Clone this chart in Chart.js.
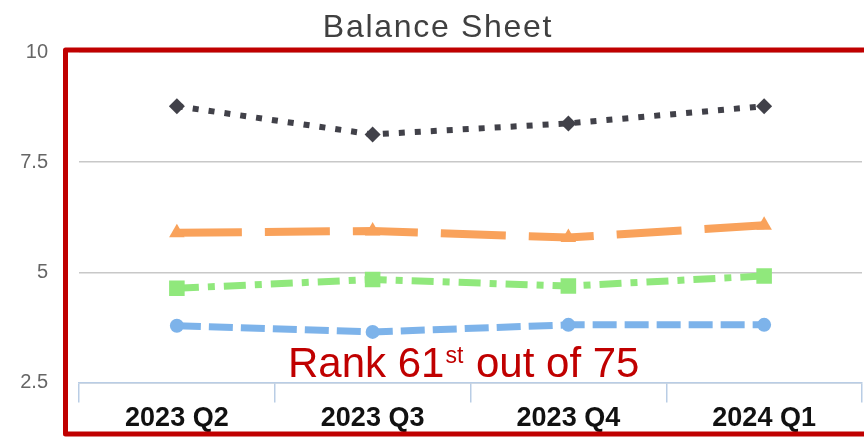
<!DOCTYPE html>
<html>
<head>
<meta charset="utf-8">
<script src="https://cdn.jsdelivr.net/npm/chart.js@4/dist/chart.umd.min.js"></script>
<style>
  html, body { margin: 0; padding: 0; background: #fff; }
  #wrap { width: 864px; height: 441px; }
</style>
</head>
<body>
<div id="wrap"><canvas id="balance"></canvas></div>
<script>
const quarters = ['2023 Q2', '2023 Q3', '2023 Q4', '2024 Q1'];
const seriesBlack = [8.77, 8.13, 8.38, 8.77];
const seriesOrange = [5.9, 5.94, 5.79, 6.07];
const seriesGreen = [4.64, 4.84, 4.69, 4.92];
const seriesBlue = [3.79, 3.65, 3.81, 3.81];
const yTicks = [2.5, 5, 7.5, 10];
const chartTitle = 'Balance Sheet';
const rankText = ['Rank 61', 'st', ' out of 75'];

const fontFam = "'Liberation Sans', Arial, sans-serif";

// title, red frame and rank caption drawn on top
const overlay = {
    id: 'overlay',
    afterDraw(chart) {
        const c = chart.ctx;
        c.save();
        c.fillStyle = '#404040';
        c.font = '32px ' + fontFam;
        c.letterSpacing = '1.7px';
        c.textAlign = 'center';
        c.textBaseline = 'alphabetic';
        c.fillText(chartTitle, 438, 37);
        c.letterSpacing = '0px';

        c.strokeStyle = '#c00000';
        c.lineWidth = 5;
        c.lineJoin = 'round';
        c.strokeRect(65.5, 50, 806, 384);

        c.fillStyle = '#c00000';
        c.textAlign = 'left';
        let x = 288;
        c.font = '42px ' + fontFam;
        c.fillText(rankText[0], x, 377);
        x += c.measureText(rankText[0]).width + 1;
        c.font = '23px ' + fontFam;
        c.fillText(rankText[1], x, 363);
        x += c.measureText(rankText[1]).width + 1;
        c.font = '42px ' + fontFam;
        c.fillText(rankText[2], x, 377);
        c.restore();
    }
};

function line(label, data, color, width, dash, style, radius) {
    return {
        label: label,
        data: data,
        borderColor: color,
        backgroundColor: color,
        borderWidth: width,
        borderDash: dash,
        pointStyle: style,
        pointRadius: radius,
        pointBorderWidth: 0,
        pointBackgroundColor: color,
        tension: 0,
        fill: false
    };
}

new Chart(document.getElementById('balance'), {
    type: 'line',
    data: {
        labels: quarters,
        datasets: [
            line('A', seriesBlack, '#414149', 6, [6, 10], 'rectRot', 8),
            line('B', seriesOrange, '#f9a25b', 8, [65, 23], 'triangle', 9),
            line('C', seriesGreen, '#90e87c', 7, [22, 9, 7, 9], 'rect', 11),
            line('D', seriesBlue, '#7db3ea', 7, [24, 8], 'circle', 7)
        ]
    },
    options: {
        responsive: true,
        maintainAspectRatio: false,
        animation: false,
        layout: {
            autoPadding: false,
            padding: { left: 20, right: 2, top: 52, bottom: 6 }
        },
        plugins: {
            legend: { display: false },
            tooltip: { enabled: false },
            title: { display: false }
        },
        scales: {
            x: {
                offset: true,
                afterFit(axis) {
                    axis.paddingLeft = 0;
                    axis.paddingRight = 0;
                },
                grid: {
                    offset: true,
                    drawOnChartArea: false,
                    color: '#b9cde5',
                    lineWidth: 1.5,
                    tickLength: 20
                },
                border: { color: '#b9cde5', width: 1.5 },
                ticks: {
                    color: '#111',
                    padding: 0,
                    font: { family: fontFam, size: 27, weight: 'bold' }
                }
            },
            y: {
                min: 2.5,
                max: 10,
                afterBuildTicks(axis) {
                    axis.ticks = yTicks.map(v => ({ value: v }));
                },
                afterFit(axis) {
                    axis.width = 59;
                },
                grid: { color: '#c8c8c8', lineWidth: 1.5, drawTicks: false },
                border: { display: false },
                ticks: {
                    color: '#666',
                    padding: 31,
                    font: { family: fontFam, size: 20 }
                }
            }
        }
    },
    plugins: [overlay]
});
</script>
</body>
</html>
